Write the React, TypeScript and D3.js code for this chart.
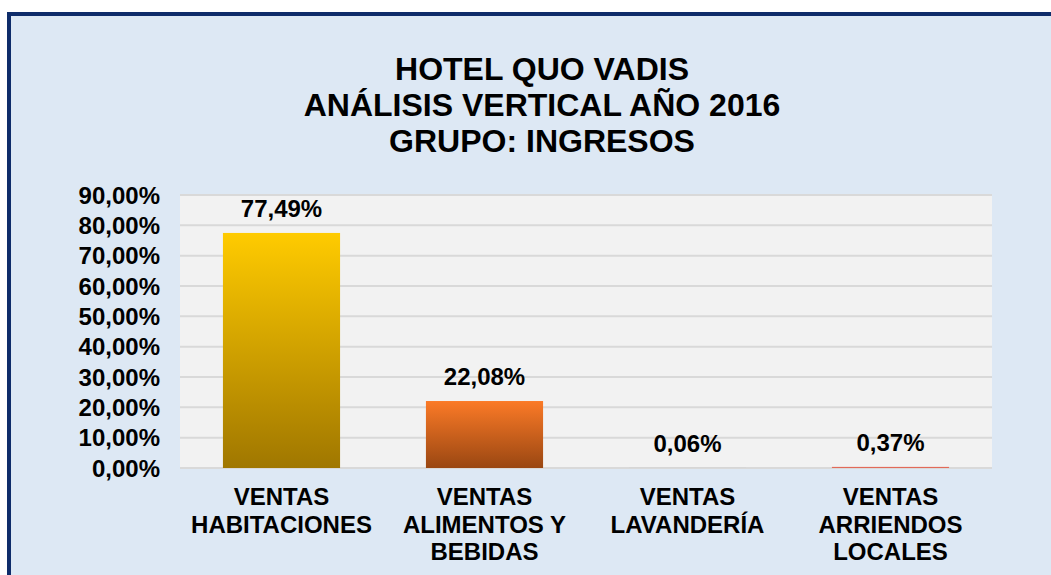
import { useEffect, useRef } from "react"
import * as d3 from "d3"

const titleLines = ["HOTEL QUO VADIS", "ANÁLISIS VERTICAL AÑO 2016", "GRUPO: INGRESOS"]
const categories = [
  ["VENTAS", "HABITACIONES"],
  ["VENTAS", "ALIMENTOS Y", "BEBIDAS"],
  ["VENTAS", "LAVANDERÍA"],
  ["VENTAS", "ARRIENDOS", "LOCALES"],
]
const values = [77.49, 22.08, 0.06, 0.37]
const yTicks = [0, 10, 20, 30, 40, 50, 60, 70, 80, 90]
const barColors: [string, string][] = [
  ["#ffcb00", "#a07700"],
  ["#fb7a27", "#9a4712"],
  ["#c9c9c9", "#8a8a8a"],
  ["#e8705f", "#dc6655"],
]

const fmt = (v: number) => v.toFixed(2).replace(".", ",") + "%"

export default function App() {
  const svgRef = useRef<SVGSVGElement>(null)

  useEffect(() => {
    if (!svgRef.current) return
    const width = 1051
    const height = 575
    const font = "'Liberation Sans', Arial, sans-serif"
    const svg = d3.select(svgRef.current)
    svg.selectAll("*").remove()

    // Frame
    svg.append("rect").attr("width", width).attr("height", height).attr("fill", "#fff")
    svg
      .append("rect")
      .attr("x", 9)
      .attr("y", 14)
      .attr("width", width + 20)
      .attr("height", height + 20)
      .attr("fill", "#dde8f4")
      .attr("stroke", "#0e2c6a")
      .attr("stroke-width", 4)

    // Title
    svg
      .append("g")
      .selectAll("text")
      .data(titleLines)
      .join("text")
      .attr("x", 542)
      .attr("y", (_, i) => 80 + i * 36)
      .attr("text-anchor", "middle")
      .attr("font-family", font)
      .attr("font-weight", "bold")
      .attr("font-size", 32)
      .attr("fill", "#000")
      .text((d) => d)

    const plot = { left: 180, right: 992, top: 195, bottom: 468 }

    const x = d3
      .scaleBand<number>()
      .domain(values.map((_, i) => i))
      .range([plot.left, plot.right])
      .paddingInner(0.423)
      .paddingOuter(0.2115)

    const y = d3.scaleLinear().domain([0, 90]).range([plot.bottom, plot.top])

    svg
      .append("rect")
      .attr("x", plot.left)
      .attr("y", plot.top)
      .attr("width", plot.right - plot.left)
      .attr("height", plot.bottom - plot.top)
      .attr("fill", "#f2f2f2")

    // Grid lines
    svg
      .append("g")
      .selectAll("line")
      .data(yTicks)
      .join("line")
      .attr("x1", plot.left)
      .attr("x2", plot.right)
      .attr("y1", (d) => y(d))
      .attr("y2", (d) => y(d))
      .attr("stroke", "#d9d9d9")
      .attr("stroke-width", 2)

    // Y labels
    svg
      .append("g")
      .selectAll("text")
      .data(yTicks)
      .join("text")
      .attr("x", 160)
      .attr("y", (d) => y(d) + 8.5)
      .attr("text-anchor", "end")
      .attr("font-family", font)
      .attr("font-weight", "bold")
      .attr("font-size", 24)
      .text((d) => fmt(d))

    // Gradients
    const defs = svg.append("defs")
    barColors.forEach((c, i) => {
      const g = defs
        .append("linearGradient")
        .attr("id", `grad${i}`)
        .attr("x1", 0)
        .attr("y1", 0)
        .attr("x2", 0)
        .attr("y2", 1)
      g.append("stop").attr("offset", "0%").attr("stop-color", c[0])
      g.append("stop").attr("offset", "100%").attr("stop-color", c[1])
    })

    // Bars
    svg
      .append("g")
      .selectAll("rect")
      .data(values)
      .join("rect")
      .attr("x", (_, i) => x(i)!)
      .attr("y", (d) => y(d))
      .attr("width", x.bandwidth())
      .attr("height", (d) => Math.max(plot.bottom - y(d), 0))
      .attr("fill", (_, i) => `url(#grad${i})`)

    // Value labels
    svg
      .append("g")
      .selectAll("text")
      .data(values)
      .join("text")
      .attr("x", (_, i) => x(i)! + x.bandwidth() / 2)
      .attr("y", (d) => y(d) - 16)
      .attr("text-anchor", "middle")
      .attr("font-family", font)
      .attr("font-weight", "bold")
      .attr("font-size", 24)
      .text((d) => fmt(d))

    // Category labels
    const cat = svg
      .append("g")
      .selectAll("text")
      .data(categories)
      .join("text")
      .attr("x", (_, i) => x(i)! + x.bandwidth() / 2)
      .attr("y", 505)
      .attr("text-anchor", "middle")
      .attr("font-family", font)
      .attr("font-weight", "bold")
      .attr("font-size", 24)
    cat
      .selectAll("tspan")
      .data((d) => d)
      .join("tspan")
      .attr("x", function () {
        return (this.parentNode as SVGTextElement).getAttribute("x")
      })
      .attr("dy", (_, j) => (j === 0 ? 0 : 27.5))
      .text((d) => d)
  }, [])

  return (
    <svg
      ref={svgRef}
      width={1051}
      height={575}
      style={{ position: "absolute", left: 0, top: 0, display: "block" }}
    />
  )
}
